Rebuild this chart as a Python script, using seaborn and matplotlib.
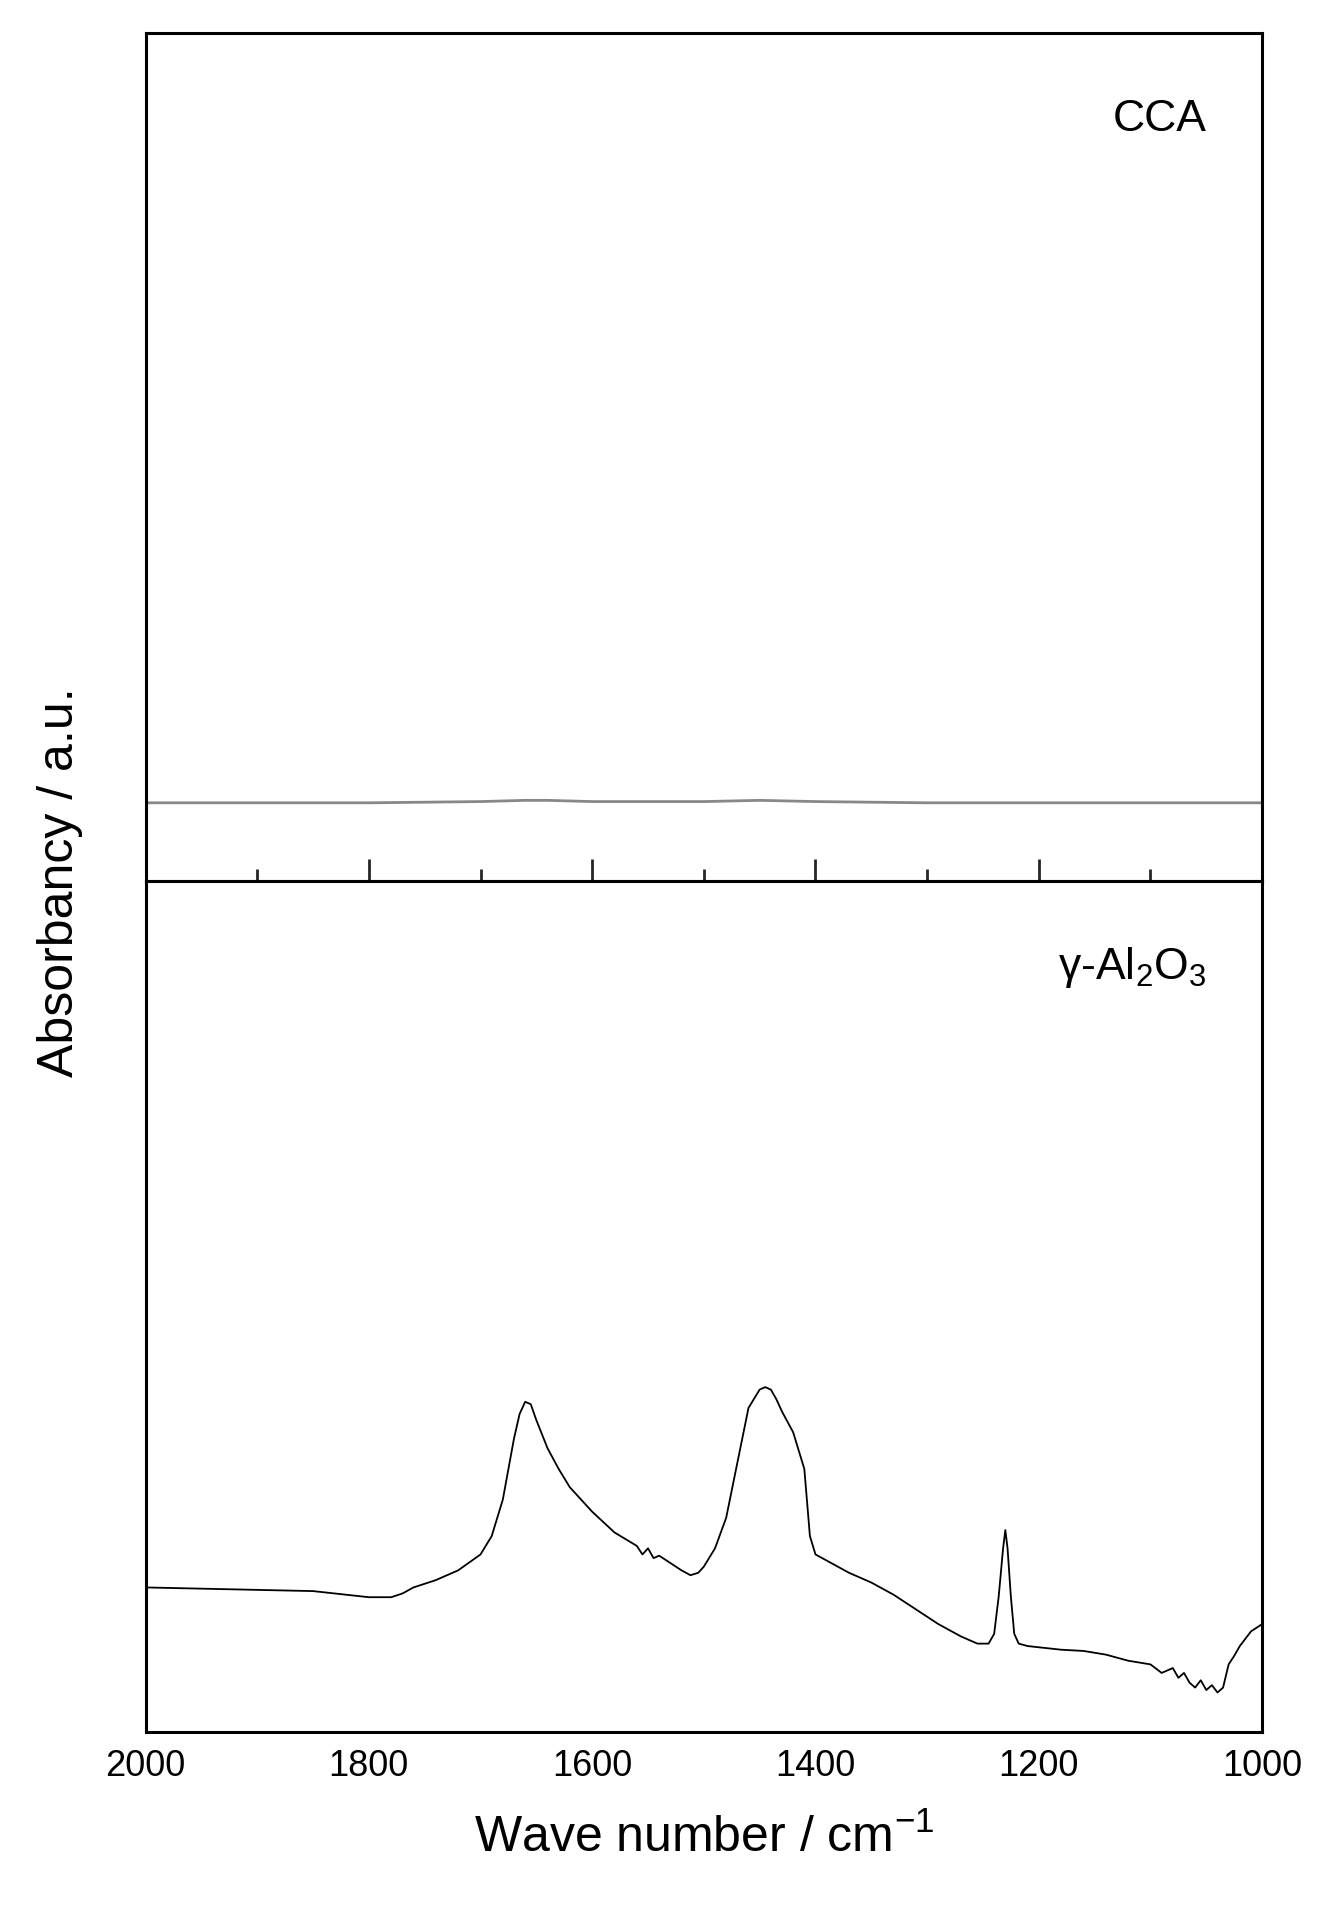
import matplotlib
matplotlib.use("Agg")
import matplotlib.pyplot as plt
import seaborn as sns
import numpy as np

# CCA spectrum (flat)
cca_x = [2000, 1900, 1800, 1700, 1660, 1640, 1600, 1500, 1450, 1400, 1300, 1200, 1100, 1000]
cca_y = [64, 64, 64, 65, 66, 66, 65, 65, 66, 65, 64, 64, 64, 64]

al_x = [2000, 1950, 1900, 1850, 1800, 1780, 1770, 1760, 1740, 1720, 1700, 1690, 1680, 1670,
        1665, 1660, 1655, 1650, 1640, 1630, 1620, 1600, 1580, 1560, 1555, 1550, 1545, 1540,
        1530, 1520, 1512, 1505, 1500, 1490, 1480, 1470, 1460, 1450, 1445, 1440, 1435, 1430,
        1420, 1410, 1405, 1400, 1390, 1370, 1350, 1330, 1310, 1290, 1270, 1255, 1245, 1240,
        1236, 1232, 1230, 1228, 1225, 1222, 1218, 1210, 1200, 1180, 1160, 1140, 1120, 1100,
        1090, 1080, 1075, 1070, 1065, 1060, 1055, 1050, 1045, 1040, 1035, 1030, 1025, 1020,
        1010, 1000]
al_y = [118, 117, 116, 115, 110, 110, 113, 118, 124, 132, 145, 160, 190, 240,
        260, 270, 268, 255, 232, 215, 200, 180, 163, 152, 145, 150, 142, 144,
        138, 132, 128, 130, 135, 150, 175, 220, 265, 280, 282, 280, 272, 262,
        245, 215, 160, 145, 140, 130, 122, 112, 100, 88, 78, 72, 72, 80,
        110, 150, 165, 150, 110, 80, 72, 70, 69, 67, 66, 63, 58, 55,
        48, 52, 44, 48, 40, 36, 42, 34, 38, 32, 36, 55, 62, 70,
        82, 88]

sns.set_style("ticks")
plt.rcParams["font.family"] = "Liberation Sans"
plt.rcParams["text.color"] = "black"
plt.rcParams["mathtext.fontset"] = "custom"
plt.rcParams["mathtext.rm"] = "Liberation Sans"
plt.rcParams["mathtext.it"] = "Liberation Sans"

fig = plt.figure(figsize=(13.23, 19.06), dpi=100)
ax1 = fig.add_axes([0.11, 0.537, 0.844, 0.445])
ax2 = fig.add_axes([0.11, 0.091, 0.844, 0.446])

sns.lineplot(x=cca_x, y=cca_y, ax=ax1, color="#888888", lw=2)
sns.lineplot(x=al_x, y=al_y, ax=ax2, color="black", lw=1.3)

for ax in (ax1, ax2):
    ax.set_xlim(2000, 1000)
    ax.set_yticks([])
    for s in ax.spines.values():
        s.set_linewidth(2.2)
        s.set_color("black")
ax1.set_ylim(0, 690)
ax2.set_ylim(0, 696)

ax1.set_xticks([2000, 1800, 1600, 1400, 1200, 1000])
ax1.set_xticks(np.arange(1000, 2001, 100), minor=True)
ax1.tick_params(axis="x", which="major", direction="in", length=16, width=2, labelbottom=False)
ax1.tick_params(axis="x", which="minor", direction="in", length=9, width=2)

ax2.set_xticks([2000, 1800, 1600, 1400, 1200, 1000])
ax2.tick_params(axis="x", which="both", length=0, labelsize=26, pad=12, labelcolor="black")

ax1.text(0.95, 0.9, "CCA", transform=ax1.transAxes, ha="right", va="center", fontsize=32)
ax2.text(0.95, 0.9, "\u03b3-Al$_2$O$_3$", transform=ax2.transAxes, ha="right", va="center", fontsize=32)

fig.text(0.045, 0.537, "Absorbancy / a.u.", rotation=90, ha="center", va="center", fontsize=36)
ax2.set_xlabel("Wave number / cm$^{-1}$", fontsize=36, labelpad=22, color="black")

fig.savefig("out.png", dpi=100)
